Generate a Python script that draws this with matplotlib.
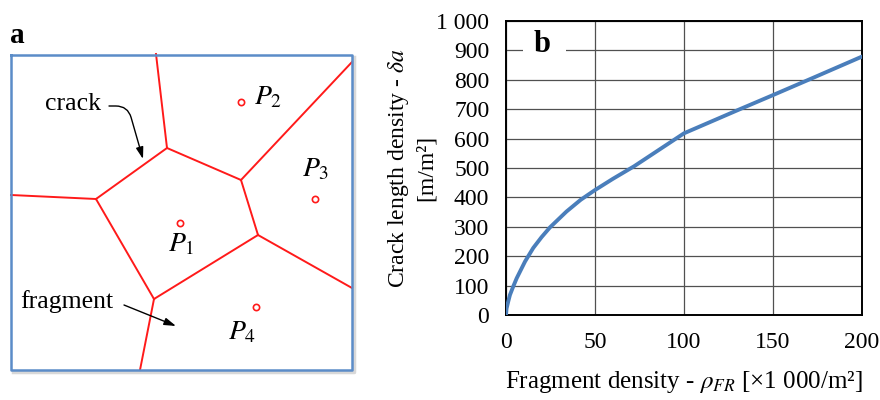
import numpy as np
import matplotlib
matplotlib.use("Agg")
import matplotlib.pyplot as plt

plt.rcParams['font.family'] = ['Liberation Serif', 'DejaVu Serif']
plt.rcParams['mathtext.fontset'] = 'stix'

# ---- panel b data ----
frag_density = [0, 0.3, 1.3, 2.2, 4, 6, 10.7, 15.3, 20, 24.7, 34, 42, 50, 60, 72, 100, 131, 150, 173, 200]
crack_density = [0, 22, 47, 68, 96, 125, 182, 228, 265, 298, 352, 392, 425, 463, 506, 618, 699, 748, 808, 879]
x_ticks = [0, 50, 100, 150, 200]
y_ticks = [0, 100, 200, 300, 400, 500, 600, 700, 800, 900, 1000]
y_tick_labels = ["0", "100", "200", "300", "400", "500", "600", "700", "800", "900", "1 000"]

# ---- panel a illustration (pixel coords of the sketch) ----
crack_segments = [
    ((156, 54), (167, 148)),
    ((167, 148), (241, 180)),
    ((241, 180), (352, 62)),
    ((241, 180), (258, 235)),
    ((258, 235), (352, 288)),
    ((258, 235), (154, 299)),
    ((154, 299), (96, 199)),
    ((96, 199), (167, 148)),
    ((96, 199), (11, 195)),
    ((154, 299), (140, 370)),
]
seed_x = [180, 241, 315, 256]
seed_y = [223, 102, 199, 307]
seed_labels = [r"$P_{\mathit{1}}$", r"$P_{\mathit{2}}$", r"$P_{\mathit{3}}$", r"$P_{\mathit{4}}$"]
seed_label_xy = [(181, 245), (268, 98), (316, 170), (242, 333)]
frame = (11, 55, 352, 370)

fig = plt.figure(figsize=(8.8, 4.0), dpi=100)

# panel a
ax_a = fig.add_axes([0, 0, 1, 1])
ax_a.set_xlim(0, 880)
ax_a.set_ylim(400, 0)
ax_a.axis('off')
x0, y0, x1, y1 = frame
ax_a.plot([x0 + 2, x1 + 2, x1 + 2], [y1 + 2, y1 + 2, y0 + 2], color='#d8d8d8', lw=2.5, zorder=1)
ax_a.plot([x0, x1, x1, x0, x0], [y0, y0, y1, y1, y0], color='#5b8cc8', lw=1.8, zorder=3)
for (p, q) in crack_segments:
    ax_a.plot([p[0], q[0]], [p[1], q[1]], color='#ff1a1a', lw=1.4, zorder=2)
ax_a.plot(seed_x, seed_y, 'o', ms=4.5, mfc='white', mec='#ff1a1a', mew=1.2, ls='none', zorder=4)
for lab, (lx, ly) in zip(seed_labels, seed_label_xy):
    ax_a.text(lx, ly, lab, fontsize=20, ha='center', va='center', zorder=5)
ax_a.text(10, 43, "a", fontsize=21, fontweight='bold', ha='left', va='baseline')
ax_a.text(73, 104, "crack", fontsize=18.5, ha='center', va='center')
ax_a.text(67, 302, "fragment", fontsize=18.5, ha='center', va='center')
ax_a.annotate("", xy=(143, 159), xytext=(109, 106),
              arrowprops=dict(arrowstyle="-|>,head_length=0.7,head_width=0.22", color='black', lw=1.0,
                              connectionstyle="angle,angleA=0,angleB=106,rad=12",
                              shrinkA=0, shrinkB=0))
ax_a.annotate("", xy=(176, 326), xytext=(124, 305),
              arrowprops=dict(arrowstyle="-|>,head_length=0.7,head_width=0.22", color='black', lw=1.0,
                              shrinkA=0, shrinkB=0))

# panel b
ax = fig.add_axes([506 / 880, (400 - 315) / 400, (862 - 506) / 880, (315 - 21) / 400])
ax.plot(frag_density, crack_density, color='#4a7ebb', lw=2.8, solid_capstyle='round',
        solid_joinstyle='round', zorder=3)
ax.set_xlim(0, 200)
ax.set_ylim(0, 1000)
ax.set_xticks(x_ticks)
ax.set_xticklabels([str(v) for v in x_ticks])
ax.set_yticks(y_ticks)
ax.set_yticklabels(y_tick_labels)
ax.tick_params(length=0, labelsize=17, pad=12)
ax.grid(True, color='#505050', lw=0.9)
ax.set_axisbelow(True)
for s in ax.spines.values():
    s.set_color('black')
    s.set_linewidth(1.4)
ax.set_ylabel("Crack length density - $\\delta a$\n[m/m\u00b2]", fontsize=17, linespacing=1.3)
ax.yaxis.set_label_coords(-0.195, 0.5)
ax.set_xlabel("Fragment density - $\\rho_{FR}$ [\u00d71 000/m\u00b2]", fontsize=18)
ax.xaxis.set_label_coords(0.5, -0.185)
ax.text(542, 44, "b", transform=ax_a.transData, fontsize=22, fontweight='bold',
        ha='center', va='center', zorder=5)
ax.axhspan(880, 920, xmin=(523 - 506) / 356, xmax=(566 - 506) / 356, color='white', zorder=2, lw=0)

fig.savefig("out.png", dpi=100)
